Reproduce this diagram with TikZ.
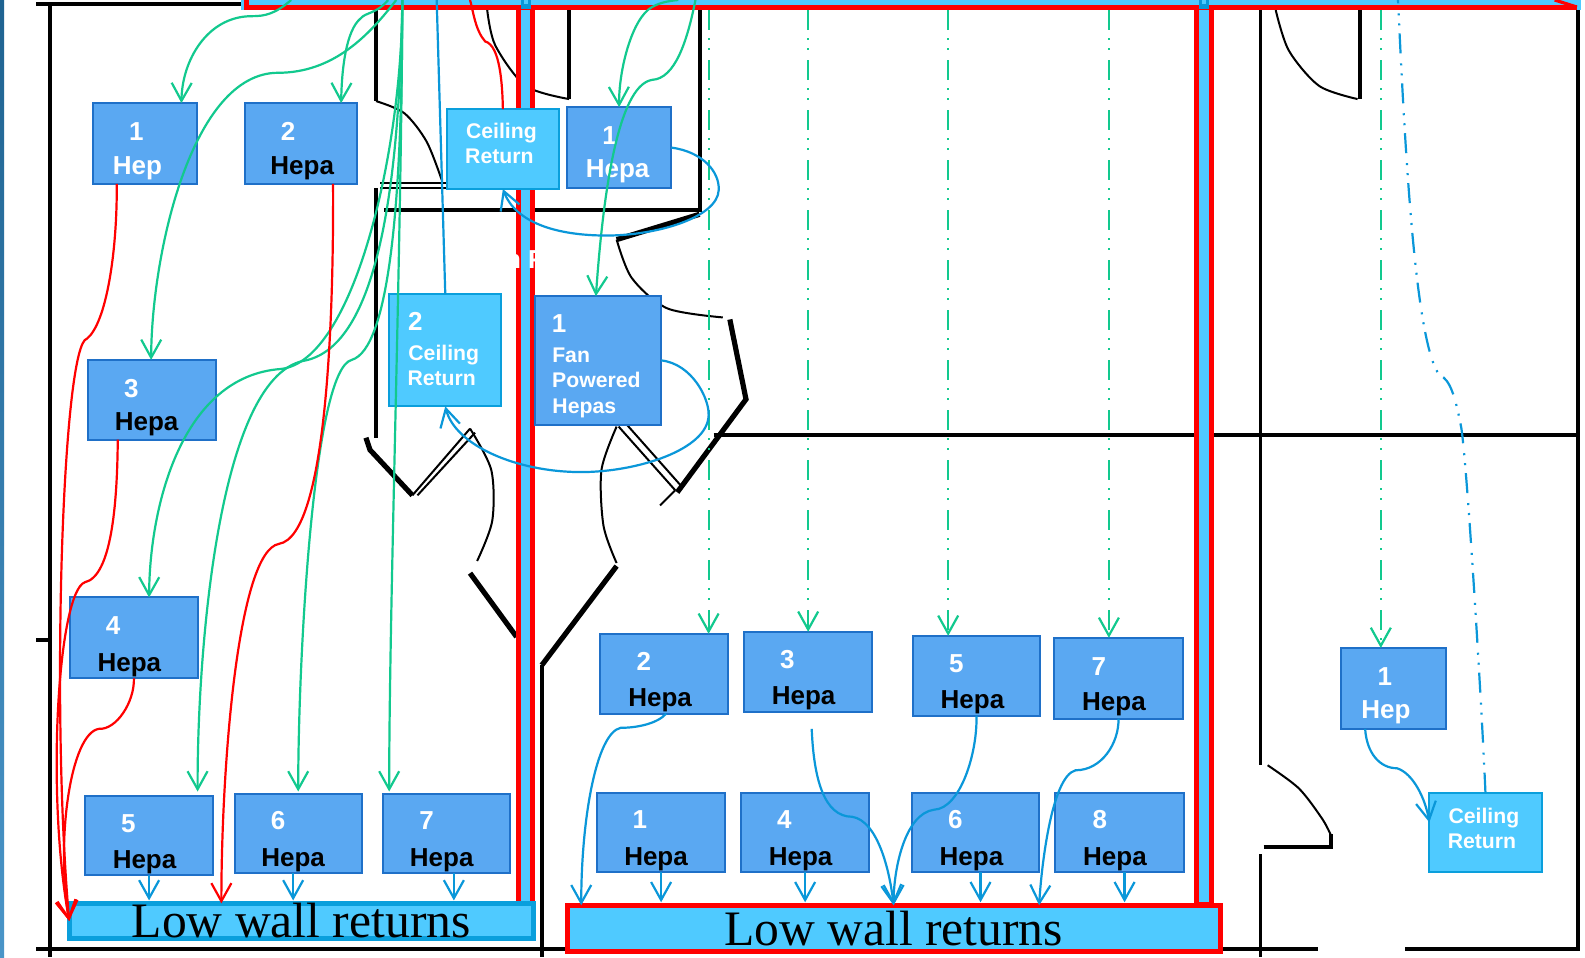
\documentclass[tikz,border=0pt]{standalone}
\usepackage{xcolor}
\usepackage{fontspec}
\setmainfont{Liberation Serif}
\setsansfont{Liberation Sans}
\usepackage{tikz}
\usetikzlibrary{arrows.meta}
\definecolor{boxblue}{HTML}{5AA8F2}
\definecolor{boxedge}{HTML}{1F70C8}
\definecolor{ceilblue}{HTML}{4FCAFF}
\definecolor{ceiledge}{HTML}{0A9FDC}
\definecolor{flowgreen}{HTML}{12C98E}
\definecolor{flowblue}{HTML}{0A97D9}
\definecolor{edgetop}{HTML}{1F6391}
\definecolor{edgebot}{HTML}{4A95C8}
\tikzset{
  hepa/.style={draw=boxedge,fill=boxblue,line width=1pt,inner sep=0pt,outer sep=0pt},
  ceil/.style={draw=ceiledge,fill=ceilblue,line width=1pt,inner sep=0pt,outer sep=0pt},
  numlbl/.style={inner sep=0pt,text=white,font=\sffamily\bfseries\fontsize{13}{15}\selectfont},
  smalllbl/.style={inner sep=0pt,text=white,font=\sffamily\bfseries\fontsize{10.6}{12}\selectfont},
  lowbar/.style={fill=ceilblue,line width=2.5pt,inner sep=0pt,outer sep=0pt,font=\fontsize{24.8}{28}\selectfont},
  wall/.style={black,line width=2pt},
  thinwall/.style={black,line width=1pt},
  thickwall/.style={black,line width=2.6pt},
  supply/.style={flowgreen,line width=1.1pt,->},
  exhaust/.style={red,line width=1.1pt,->},
  back/.style={flowblue,line width=1.1pt,->},
  dashdot/.style={dash pattern=on 10pt off 4pt on 1pt off 4pt on 1pt off 5pt},
}
\begin{document}
\begin{tikzpicture}[x=0.5054pt,y=-0.5054pt,>={Straight Barb[length=9pt,width=10pt]}]
  \clip (0,0) rectangle (1568,947);
  \fill[white] (0,0) rectangle (1568,947);
  \shade[top color=edgetop,bottom color=edgebot] (0,0) rectangle (4,947);
  % plan walls
  \draw[wall] (36,4) -- (245,4);
  \draw[wall] (49,4) -- (49,947);
  \draw[wall] (36,633) -- (49,633);
  \draw[wall] (36,939) -- (560,939);
  \draw[wall] (536,658) -- (536,947);
  \draw[wall] (1205,939) -- (1304,939);
  \draw[wall] (1390,939) -- (1561,939) -- (1561,8);
  \draw[thinwall,line width=1.5pt] (1247,8) -- (1247,757);
  \draw[thinwall,line width=1.5pt] (1247,845) -- (1247,947);
  \draw[wall] (706,430) -- (1561,430);
  \draw[wall] (372,8) -- (372,100);
  \draw[thinwall] plot[smooth] coordinates {(372,100) (400,112) (422,140) (437,178)};
  \draw[thinwall] (376,181) -- (442,181);
  \draw[thinwall] (376,186) -- (442,186);
  \draw[wall] (372,186) -- (372,433);
  \draw[wall] (380,208) -- (692,208) -- (692,8);
  \draw[thinwall] plot[smooth] coordinates {(482,10) (490,45) (520,85) (563,98)};
  \draw[wall] (563,10) -- (563,98);
  \draw[thinwall] plot[smooth] coordinates {(1262,10) (1275,50) (1305,85) (1343,98)};
  \draw[wall] (1345,10) -- (1345,98);
  \draw[thickwall] (692,212) -- (610,237);
  \draw[thinwall] plot[smooth] coordinates {(610,237) (625,275) (660,305) (715,314)};
  \draw[thickwall] (722,316) -- (738,395) -- (670,487);
  \draw[thinwall] (612,422) -- (668,485);
  \draw[thinwall] (620,420) -- (675,482);
  \draw[thinwall] plot[smooth] coordinates {(610,422) (595,465) (597,520) (610,557)};
  \draw[thinwall] (668,485) -- (653,500);
  \draw[thickwall] (610,560) -- (536,658);
  \draw[thickwall] (362,433) -- (366,445) -- (408,490);
  \draw[thinwall] (408,490) -- (465,424);
  \draw[thinwall] (413,490) -- (470,428);
  \draw[thinwall] plot[smooth] coordinates {(465,424) (486,465) (487,515) (472,555)};
  \draw[thickwall] (465,567) -- (511,630);
  \draw[wall,line width=2.2pt] (1250,838) -- (1317,838) -- (1317,825);
  \draw[thinwall] plot[smooth] coordinates {(1254,757) (1285,780) (1308,810) (1317,827)};
  % supply duct and risers
  \node[fill=ceilblue,inner sep=0pt,outer sep=0pt,minimum width=670pt,minimum height=10pt] (topbar) at (901,0) {};
  \draw[red,line width=2.5pt] (244,-5) -- (244,7) -- (1560,7);
  \draw[red,line width=1.6pt] (1538,0) -- (1560,7);
  \foreach \x in {520,1191}{
    \draw[red,fill=ceilblue,line width=2.5pt] (\x-7,7) rectangle (\x+7,895);
    \fill[flowblue] (\x-5,0) rectangle (\x+5,9);
    \fill[ceilblue] (\x-2,0) rectangle (\x+2,4);
  }
  \node[numlbl] (stray) at (519,257) {n F};
  % low wall returns
  \node[lowbar,draw=ceiledge,minimum width=232pt,minimum height=15.6pt] (leftlow) at (298,911) {Low wall returns};
  \node[lowbar,draw=red,minimum width=326.5pt,minimum height=23.2pt] (rightlow) at (884,918.5) {Low wall returns};
  % hepa boxes
  \foreach \nm/\xa/\ya/\xb/\yb/\num/\nx/\ny/\word/\wx/\wy/\wc in {
    l1/92/102/195/182/1/135/130/Hep/136/166/white,
    l2/242/102/353/182/2/285/130/Hepa/299/166/black,
    l3/87/356/214/435/3/130/384/Hepa/145/420/black,
    l4/69/591/196/671/4/112/619/Hepa/128/658/black,
    l5/84/787/211/866/5/127/815/Hepa/143/853/black,
    l6/232/785/358/864/6/275/812/Hepa/290/851/black,
    l7/379/785/505/864/7/422/812/Hepa/437/851/black,
    r1/561/106/664/186/1/603/134/Hepa/611/169/white,
    r2/594/627/720/706/2/637/654/Hepa/653/693/black,
    r3/736/625/863/704/3/779/652/Hepa/795/691/black,
    r5/903/629/1029/708/5/946/657/Hepa/962/695/black,
    r7/1043/631/1170/711/7/1087/659/Hepa/1102/697/black,
    b1/591/784/717/863/1/633/811/Hepa/649/850/black,
    b4/733/784/860/863/4/776/811/Hepa/792/850/black,
    b6/902/784/1028/863/6/945/811/Hepa/961/850/black,
    b8/1044/784/1171/863/8/1088/811/Hepa/1103/850/black,
    far/1327/641/1430/721/1/1370/669/Hep/1371/705/white}{
    \node[hepa,minimum width={(\xb-\xa)*0.5054pt},minimum height={(\yb-\ya)*0.5054pt}] (\nm) at ({(\xa+\xb)/2},{(\ya+\yb)/2}) {};
    \node[numlbl] (\nm-num) at (\nx,\ny) {\num};
    \node[numlbl,text=\wc] (\nm-word) at (\wx,\wy) {\word};
  }
  \node[hepa,minimum width=63.2pt,minimum height=64.2pt] (fp) at (591.5,356.5) {};
  \node[numlbl] (fp-num) at (553,320) {1};
  \node[smalllbl] (fp-a) at (565,351) {Fan};
  \node[smalllbl] (fp-b) at (590,376) {Powered};
  \node[smalllbl] (fp-c) at (578,404) {Hepas};
  % ceiling returns
  \node[ceil,minimum width=56.1pt,minimum height=39.9pt] (cr1) at (497.5,147.5) {};
  \node[smalllbl] (cr1-a) at (496,132) {Ceiling};
  \node[smalllbl] (cr1-b) at (494,155) {Return};
  \node[ceil,minimum width=56.1pt,minimum height=56.1pt] (cr2) at (440.5,346.5) {};
  \node[numlbl] (cr2-num) at (411,318) {2};
  \node[smalllbl] (cr2-a) at (439,351) {Ceiling};
  \node[smalllbl] (cr2-b) at (437,374) {Return};
  \node[ceil,minimum width=56.1pt,minimum height=39.9pt] (cr3) at (1469.5,823.5) {};
  \node[smalllbl] (cr3-a) at (1468,809) {Ceiling};
  \node[smalllbl] (cr3-b) at (1466,832) {Return};
  % green supply
  \coordinate (s1) at (288,0);
  \coordinate (s2) at (384,0);
  \coordinate (s3) at (392,0);
  \coordinate (s4) at (398,0);
  \coordinate (s5) at (671,0);
  \coordinate (s6) at (688,0);
  \draw[supply] (s1) .. controls (272,14) and (262,16) .. (249,16) .. controls (205,16) and (180,60) .. ([shift={(36,0)}]l1.north);
  \draw[supply] (s2) .. controls (372,14) and (362,12) .. (357,18) .. controls (342,30) and (338,70) .. ([shift={(40,0)}]l2.north);
  \draw[supply] (s3) .. controls (365,35) and (330,72) .. (275,72) .. controls (190,72) and (150,250) .. ([shift={(-1,0)}]l3.north);
  \draw[supply] (s4) .. controls (398,150) and (350,357) .. (278,365) .. controls (180,372) and (148,500) .. ([shift={(15,0)}]l4.north);
  \draw[supply] (s4) .. controls (395,200) and (370,345) .. (300,357) .. controls (215,375) and (195,650) .. ([shift={(48,-4)}]l5.north);
  \draw[supply] (s4) .. controls (398,200) and (385,345) .. (348,356) .. controls (310,365) and (295,650) .. ([shift={(0,-2)}]l6.north);
  \draw[supply] (s4) .. controls (397,250) and (385,600) .. ([shift={(-57,-2)}]l7.north);
  \draw[supply] (s5) .. controls (660,1) and (652,3) .. (645,7) .. controls (625,18) and (612,70) .. (r1.north);
  \draw[supply] (s6) .. controls (680,40) and (668,78) .. (645,79) .. controls (610,85) and (596,200) .. ([shift={(-2,0)}]fp.north);
  % dash-dotted supply
  \foreach \nm/\dx in {r2/44,r3/0,r5/-28,r7/-9.5,far/-12.5}{
    \draw[supply,dashdot] ([shift={(\dx,0)}]\nm.north |- topbar.south) -- ([shift={(\dx,0)}]\nm.north);
  }
  % red exhaust
  \draw[exhaust,-] (cr1.north) .. controls (497,85) and (495,45) .. (480,41) .. controls (470,30) and (468,10) .. (465,0);
  \draw[exhaust] ([shift={(-28,0)}]l1.south) .. controls (116,250) and (105,320) .. (86,335) .. controls (62,340) and (50,700) .. (leftlow.west);
  \draw[exhaust] ([shift={(-34,0)}]l3.south) .. controls (116,500) and (110,570) .. (84,576) .. controls (58,585) and (45,780) .. (leftlow.west);
  \draw[exhaust] (l4.south) .. controls (133,695) and (115,722) .. (98,721) .. controls (70,725) and (55,830) .. (leftlow.west);
  \draw[exhaust] ([shift={(32,0)}]l2.south) .. controls (330,300) and (325,530) .. (276,538) .. controls (235,545) and (219,760) .. ([shift={(-79,0)}]leftlow.north);
  % blue returns
  \coordinate (s7) at (432,0);
  \coordinate (s8) at (1383,0);
  \coordinate (r3out) at (803,721);
  \draw[back,-] (cr2.north) -- (s7);
  \draw[back] (r1.east) .. controls (695,150) and (712,170) .. (711,188) .. controls (710,215) and (650,233) .. (600,233) .. controls (550,233) and (510,220) .. (cr1.south);
  \draw[back] (fp.east) .. controls (685,360) and (702,395) .. (701,411) .. controls (700,445) and (630,467) .. (575,467) .. controls (510,467) and (450,440) .. (cr2.south);
  \foreach \nm/\dx/\bar in {l5/0/leftlow,l6/-5/leftlow,l7/7/leftlow,b1/0/rightlow,b4/0/rightlow,b6/5/rightlow,b8/5/rightlow}{
    \draw[back,shorten >=1.5pt] ([shift={(\dx,0)}]\nm.south) -- ([shift={(\dx,0)}]\nm.south |- \bar.north);
  }
  \draw[back] ([shift={(2,0)}]r2.south) .. controls (650,716) and (630,720) .. (614,720) .. controls (590,725) and (575,810) .. ([shift={(-309,0)}]rightlow.north);
  \draw[back] (r3out) .. controls (805,770) and (815,808) .. (843,808) .. controls (868,812) and (880,860) .. (rightlow.north);
  \draw[back] (r5.south) .. controls (967,745) and (950,800) .. (924,801) .. controls (895,805) and (884,860) .. (rightlow.north);
  \draw[back] (r7.south) .. controls (1107,735) and (1090,762) .. (1064,762) .. controls (1040,768) and (1030,860) .. ([shift={(144,0)}]rightlow.north);
  \draw[back] ([shift={(-28,0)}]far.south) .. controls (1352,745) and (1365,760) .. (1382,760) .. controls (1398,765) and (1410,790) .. ([shift={(0,-10)}]cr3.west);
  \draw[flowblue,line width=1.1pt,dashdot] (cr3.north) .. controls (1465,680) and (1450,440) .. (1445,420) .. controls (1440,395) and (1435,375) .. (1424,371) .. controls (1400,340) and (1390,150) .. (s8);
\end{tikzpicture}
\end{document}
